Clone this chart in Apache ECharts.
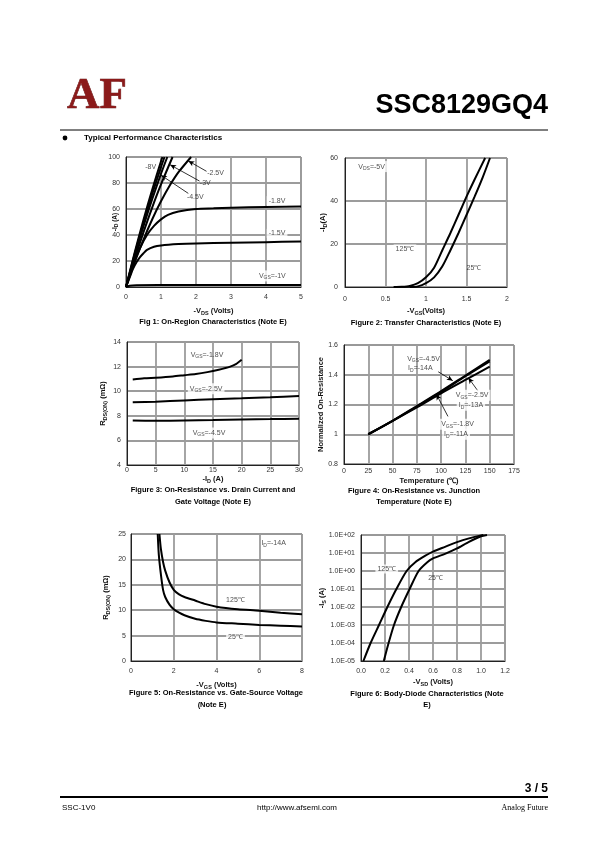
<!DOCTYPE html>
<html><head><meta charset="utf-8">
<script src="https://cdn.jsdelivr.net/npm/echarts@6/dist/echarts.min.js"></script>
<style>html,body{margin:0;padding:0;background:#fff}#c{width:595px;height:842px}</style>
</head><body><div id="c"></div>
<script>
// ---------- Fig 1: On-region characteristics (-VDS, -ID) ----------
const fig1Vgs8  = [[0,0],[0.25,26.7],[0.5,51.7],[0.75,75],[1.0,96.7],[1.04,100]];
const fig1Vgs6  = [[0,0],[0.25,25.5],[0.5,49.3],[0.75,71.6],[1.0,92.2],[1.1,100]];
const fig1Vgs45 = [[0,0],[0.25,24.2],[0.5,46.8],[0.75,67.7],[1.0,87.1],[1.18,100]];
const fig1Vgs3  = [[0,0],[0.25,21.8],[0.5,42.2],[0.75,61.3],[1.0,78.9],[1.33,100]];
const fig1Vgs25 = [[0,0],[0.25,19.1],[0.5,36.5],[0.75,52.1],[1.0,65.9],[1.25,78],[1.5,88.3],[1.86,100]];
const fig1Vgs18 = [[0,0],[0.2,17],[0.4,30],[0.6,40],[0.8,47],[1.0,52],[1.2,55.5],[1.5,58],[2,60],[2.5,60.5],[3,61],[4,61.5],[5,62]];
const fig1Vgs15 = [[0,0],[0.1,7],[0.2,14],[0.3,19],[0.4,23],[0.5,26],[0.6,28.5],[0.8,31],[1,32],[1.5,33],[2,33.5],[3,34],[4,34.5],[5,35]];
const fig1Vgs1  = [[0,0],[0.1,1],[0.3,1.4],[1,1.5],[5,1.6]];
// ---------- Fig 2: Transfer characteristics (-VGS, -ID) ----------
const fig2T125 = [[0.6,0],[0.7,0.1],[0.8,0.5],[0.9,1.8],[1.0,4.5],[1.1,9],[1.2,17],[1.3,25],[1.4,33.5],[1.5,42],[1.6,50],[1.73,60]];
const fig2T25  = [[0.8,0],[0.9,0.3],[1.0,1.8],[1.1,4.5],[1.2,9.5],[1.3,17],[1.4,25],[1.5,33.5],[1.6,42],[1.7,51],[1.79,60]];
// ---------- Fig 3: RDS(ON) vs -ID ----------
const fig3Vgs18 = [[1,10.95],[3,11.05],[5,11.1],[8,11.2],[10,11.3],[12,11.4],[14,11.55],[16,11.75],[18,12.0],[19,12.2],[20,12.55]];
const fig3Vgs25 = [[1,9.1],[5,9.15],[10,9.25],[15,9.35],[20,9.42],[25,9.5],[30,9.6]];
const fig3Vgs45 = [[1,7.62],[5,7.6],[10,7.62],[15,7.65],[20,7.7],[25,7.73],[30,7.77]];
// ---------- Fig 4: normalized RDS(ON) vs temperature ----------
const fig4Temp  = [25,50,75,100,125,150];
const fig4Vgs45 = [1.0,1.09,1.19,1.29,1.395,1.5];
const fig4Vgs18 = [1.0,1.09,1.185,1.285,1.39,1.49];
const fig4Vgs25 = [1.0,1.09,1.18,1.275,1.365,1.455];
// ---------- Fig 5: RDS(ON) vs -VGS ----------
const fig5T125 = [[1.33,25],[1.4,22],[1.5,19.5],[1.6,17.8],[1.8,15.5],[2.0,14],[2.25,13.1],[2.5,12.6],[3,11.9],[3.5,11.2],[4,10.7],[5,10.2],[6,9.9],[7,9.5],[8,9.2]];
const fig5T25  = [[1.25,25],[1.3,21],[1.4,17],[1.5,14],[1.6,12.6],[1.8,11.1],[2.0,10.2],[2.25,9.5],[2.5,9],[3,8.3],[3.5,7.9],[4,7.6],[5,7.35],[6,7.1],[7,6.95],[8,6.8]];
// ---------- Fig 6: body diode (-VSD, -IS) ----------
const fig6T125 = [[0.02,1e-5],[0.08,1e-4],[0.15,1e-3],[0.22,1e-2],[0.295,1e-1],[0.38,1],[0.45,3],[0.55,8],[0.6,12],[0.7,22],[0.8,40],[0.9,65],[1.0,95],[1.02,100]];
const fig6T25  = [[0.19,1e-5],[0.23,1e-4],[0.275,1e-3],[0.335,1e-2],[0.405,1e-1],[0.48,1],[0.55,3],[0.6,5],[0.7,9],[0.8,18],[0.9,42],[1.0,85],[1.05,100]];

const F = '"Liberation Sans", Arial, sans-serif';
const richSub = {
  m: {fontSize: 7, fontFamily: F, color: '#222'},
  s: {fontSize: 5, fontFamily: F, color: '#222', padding: [4, 0, 0, 0]}
};
const richName = {
  m: {fontSize: 7.5, fontFamily: F, color: '#111', fontWeight: 'bold'},
  s: {fontSize: 5.5, fontFamily: F, color: '#111', fontWeight: 'bold', padding: [4, 0, 0, 0]}
};
const richNameSmall = {
  m: {fontSize: 6.5, fontFamily: F, color: '#111', fontWeight: 'bold'},
  s: {fontSize: 5, fontFamily: F, color: '#111', fontWeight: 'bold', padding: [3, 0, 0, 0]}
};

const grids = [
  {left: 126, top: 157, width: 175, height: 130},
  {left: 345, top: 158, width: 162, height: 129},
  {left: 127, top: 342, width: 172, height: 123},
  {left: 344, top: 345, width: 170, height: 119},
  {left: 131, top: 534, width: 171, height: 127},
  {left: 361, top: 535, width: 144, height: 126}
].map(g => Object.assign({show: true, borderColor: '#333', borderWidth: 1, backgroundColor: 'transparent'}, g));

function axisBase(gi, margin, name, gap, isX) {
  return {
    gridIndex: gi,
    name: name, nameLocation: 'middle', nameGap: gap, nameMoveOverlap: false,
    nameTextStyle: {rich: richName, fontSize: 7.5, fontWeight: 'bold', fontFamily: F, color: '#111'},
    axisLine: {show: true, onZero: false, lineStyle: {color: '#222', width: 1}},
    axisTick: {show: false},
    axisLabel: {fontSize: 7, color: '#333', fontFamily: F, margin: margin},
    splitLine: {show: true, showMinLine: false, showMaxLine: isX, lineStyle: {color: '#9c9c9c', width: 1.8}}
  };
}
function xAx(gi, min, max, interval, name, gap, margin, fmt) {
  const a = axisBase(gi, margin, name, gap, true);
  Object.assign(a, {type: 'value', min, max, interval});
  if (fmt) a.axisLabel.formatter = fmt;
  return a;
}
function yAx(gi, min, max, interval, name, gap, margin, fmt) {
  const a = axisBase(gi, margin, name, gap, false);
  Object.assign(a, {type: 'value', min, max, interval});
  if (fmt) a.axisLabel.formatter = fmt;
  return a;
}

const xAxes = [
  xAx(0, 0, 5, 1, '{m|-V}{s|DS}{m| (Volts)}', 19, 7),
  xAx(1, 0, 2, 0.5, '{m|-V}{s|GS}{m|(Volts)}', 19, 9),
  xAx(2, 0, 30, 5, '{m|-I}{s|D}{m| (A)}', 9, 2),
  xAx(3, 0, 175, 25, 'Temperature (℃)', 13, 4),
  xAx(4, 0, 8, 2, '{m|-V}{s|GS}{m| (Volts)}', 19, 7),
  xAx(5, 0, 1.2, 0.2, '{m|-V}{s|SD}{m| (Volts)}', 16, 7, v => v.toFixed(1))
];
const y6 = axisBase(5, 6, '{m|-I}{s|S}{m| (A)}', 34, false);
Object.assign(y6, {type: 'log', logBase: 10, min: 1e-5, max: 100});
y6.axisLabel.formatter = v => {
  const e = Math.round(Math.log10(v));
  return '1.0E' + (e < 0 ? '-' : '+') + String(Math.abs(e)).padStart(2, '0');
};
const y1 = yAx(0, 0, 100, 20, '{m|-I}{s|D}{m| (A)}', 7, 6);
y1.nameTextStyle = {rich: richNameSmall, fontSize: 6.5, fontWeight: 'bold', fontFamily: F, color: '#111'};
const yAxes = [
  y1,
  yAx(1, 0, 60, 20, '{m|-I}{s|D}{m|(A)}', 17, 7),
  yAx(2, 4, 14, 2, '{m|R}{s|DS(ON)}{m| (mΩ)}', 19, 6),
  yAx(3, 0.8, 1.6, 0.2, 'Normalized On-Resistance', 19, 6),
  yAx(4, 0, 25, 5, '{m|R}{s|DS(ON)}{m| (mΩ)}', 20, 5),
  y6
];

function curve(gi, data, name) {
  return {type: 'line', name, xAxisIndex: gi, yAxisIndex: gi, data, showSymbol: false, symbol: 'none',
    smooth: 0.25, clip: true, lineStyle: {color: '#000', width: 2}, silent: true, z: 3};
}
function ann(gi, items, arrows) {
  return {
    type: 'scatter', xAxisIndex: gi, yAxisIndex: gi, symbolSize: 0, silent: true, z: 5,
    data: items.map(it => ({
      value: [it[0], it[1]],
      label: {show: true, position: [0, 0], align: 'left', verticalAlign: 'middle',
        formatter: it[2], fontSize: 7, fontFamily: F, color: '#222', rich: richSub,
        backgroundColor: it[3] ? '#fff' : 'transparent', padding: it[3] ? [1, 2] : 0}
    })),
    markLine: arrows ? {
      silent: true, symbol: ['none', 'arrow'], symbolSize: [4, 6],
      label: {show: false}, lineStyle: {color: '#000', width: 0.8, type: 'solid'},
      data: arrows.map(a => [{coord: [a[0], a[1]]}, {coord: [a[2], a[3]]}])
    } : undefined
  };
}

const series = [
  curve(0, fig1Vgs8, '-8V'), curve(0, fig1Vgs6, '-6V'), curve(0, fig1Vgs45, '-4.5V'),
  curve(0, fig1Vgs3, '-3V'), curve(0, fig1Vgs25, '-2.5V'), curve(0, fig1Vgs18, '-1.8V'),
  curve(0, fig1Vgs15, '-1.5V'), curve(0, fig1Vgs1, '-1V'),
  ann(0, [[0.55, 92.3, '-8V'], [2.32, 87.7, '-2.5V'], [2.11, 79.8, '-3V'], [1.74, 69.5, '-4.5V'],
          [4.02, 66.4, '-1.8V', 1], [4.02, 41.3, '-1.5V', 1], [3.74, 8.5, 'V{s|GS}=-1V', 1]],
      [[2.3, 89, 1.78, 97], [2.1, 81.5, 1.26, 94], [1.78, 72, 1.0, 86]]),
  curve(1, fig2T125, '125C'), curve(1, fig2T25, '25C'),
  ann(1, [[0.14, 56, 'V{s|DS}=-5V', 1], [0.6, 17.7, '125℃', 1], [1.5, 8.8, '25℃']]),
  curve(2, fig3Vgs18, '-1.8V'), curve(2, fig3Vgs25, '-2.5V'), curve(2, fig3Vgs45, '-4.5V'),
  ann(2, [[11.1, 12.94, 'V{s|GS}=-1.8V'], [10.6, 10.2, 'V{s|GS}=-2.5V', 1], [11.1, 6.6, 'V{s|GS}=-4.5V', 1]]),
  curve(3, fig4Temp.map((t, i) => [t, fig4Vgs45[i]]), '-4.5V'),
  curve(3, fig4Temp.map((t, i) => [t, fig4Vgs18[i]]), '-1.8V'),
  curve(3, fig4Temp.map((t, i) => [t, fig4Vgs25[i]]), '-2.5V'),
  ann(3, [[65, 1.506, 'V{s|GS}=-4.5V'], [66, 1.443, 'I{s|D}=-14A'],
          [113, 1.262, 'V{s|GS}=-2.5V', 1], [116, 1.195, 'I{s|D}=-13A', 1],
          [98, 1.067, 'V{s|GS}=-1.8V', 1], [101, 1.0, 'I{s|D}=-11A', 1]],
      [[97, 1.42, 112, 1.36], [138, 1.29, 128, 1.38], [107, 1.12, 95, 1.27]]),
  curve(4, fig5T125, '125C'), curve(4, fig5T25, '25C'),
  ann(4, [[6.1, 23.2, 'I{s|D}=-14A'], [4.45, 12, '125℃'], [4.45, 4.8, '25℃', 1]]),
  curve(5, fig6T125, '125C'), curve(5, fig6T25, '25C'),
  ann(5, [[0.12, 1.29, '125℃', 1], [0.56, 0.43, '25℃']])
];

function txt(x, y, text, font, align, extra) {
  return {type: 'text', silent: true, style: Object.assign({x, y, text, font, fill: '#000', align: align || 'left', verticalAlign: 'middle'}, extra || {})};
}
const capFont = 'bold 7.5px ' + F;
const graphic = [
  txt(67, 96, 'AF', 'bold 45px "Liberation Serif", serif', 'left', {fill: '#8b1a1a', stroke: '#5a0e0e', lineWidth: 0.6}),
  txt(548, 106, 'SSC8129GQ4', 'bold 27px ' + F, 'right'),
  {type: 'line', silent: true, shape: {x1: 60, y1: 130, x2: 548, y2: 130}, style: {stroke: '#000', lineWidth: 1}},
  {type: 'circle', silent: true, shape: {cx: 65, cy: 138, r: 2.4}, style: {fill: '#000'}},
  txt(84, 138, 'Typical Performance Characteristics', 'bold 8px ' + F),
  txt(213, 322, 'Fig 1: On-Region Characteristics (Note E)', capFont, 'center'),
  txt(426, 323, 'Figure 2: Transfer Characteristics (Note E)', capFont, 'center'),
  txt(213, 490, 'Figure 3: On-Resistance vs. Drain Current and', capFont, 'center'),
  txt(213, 502, 'Gate Voltage (Note E)', capFont, 'center'),
  txt(414, 491, 'Figure 4: On-Resistance vs. Junction', capFont, 'center'),
  txt(414, 502, 'Temperature (Note E)', capFont, 'center'),
  txt(216, 693, 'Figure 5: On-Resistance vs. Gate-Source Voltage', capFont, 'center'),
  txt(212, 705, '(Note E)', capFont, 'center'),
  txt(427, 694, 'Figure 6: Body-Diode Characteristics (Note', capFont, 'center'),
  txt(427, 705, 'E)', capFont, 'center'),
  txt(548, 789, '3 / 5', 'bold 12px ' + F, 'right'),
  {type: 'line', silent: true, shape: {x1: 60, y1: 797, x2: 548, y2: 797}, style: {stroke: '#000', lineWidth: 2}},
  txt(62, 808, 'SSC-1V0', '8px ' + F),
  txt(297, 808, 'http://www.afsemi.com', '8px ' + F, 'center'),
  txt(548, 808, 'Analog Future', '8px "Liberation Serif", serif', 'right')
];

const chart = echarts.init(document.getElementById('c'), null, {renderer: 'canvas'});
chart.setOption({
  animation: false,
  backgroundColor: '#fff',
  grid: grids,
  xAxis: xAxes,
  yAxis: yAxes,
  series: series,
  graphic: graphic
});
</script></body></html>
